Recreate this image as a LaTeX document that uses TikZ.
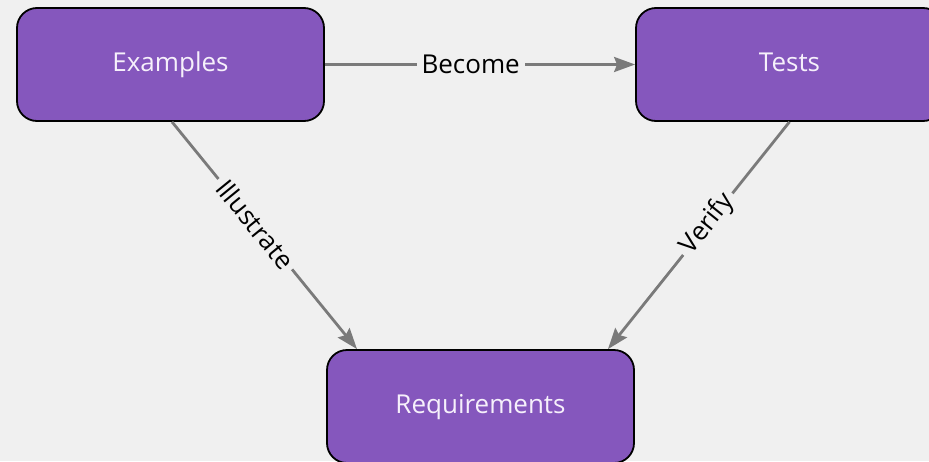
\documentclass[tikz,border=0pt]{standalone}
\usepackage{fontspec}
\setmainfont{Open Sans}
\usetikzlibrary{arrows.meta}
\definecolor{bg}{HTML}{F0F0F0}
\definecolor{boxfill}{HTML}{8557BD}
\definecolor{boxtext}{HTML}{F6F0FB}
\definecolor{edgegray}{HTML}{7A7A7A}
\tikzset{
  block/.style={draw=black, line width=1.8pt, fill=boxfill, rounded corners=20pt,
    minimum width=307pt, minimum height=113pt, inner sep=0pt,
    text height=19pt, text depth=6pt,
    text=boxtext, font=\fontsize{26}{30}\selectfont},
  flow/.style={draw=edgegray, line width=2.8pt,
    -{Stealth[length=21pt,width=15pt,inset=3pt]}},
  tag/.style={fill=bg, text=black, inner sep=5pt,
    font=\fontsize{26}{30}\selectfont}
}
\begin{document}
\begin{tikzpicture}[x=1pt,y=-1pt]
  \fill[bg] (0,0) rectangle (929,461);
  \useasboundingbox (0,0) rectangle (929,461);
  \clip (0,0) rectangle (929,461);

  \node[block] (ex)  at (170.5,64.5)  {Examples};
  \node[block] (ts)  at (789.5,64.5)  {Tests};
  \node[block] (rq)  at (480.5,406.5) {Requirements};

  \draw[flow] (ex.east) -- node[tag, pos=0.47] {Become} (ts.west);
  \draw[flow] ([xshift=1.5pt]ex.south) -- node[tag, pos=0.45, sloped] {Illustrate}
              ([xshift=-123.5pt]rq.north);
  \draw[flow] (ts.south) -- node[tag, pos=0.45, sloped] {Verify}
              ([xshift=127.5pt]rq.north);
\end{tikzpicture}
\end{document}
